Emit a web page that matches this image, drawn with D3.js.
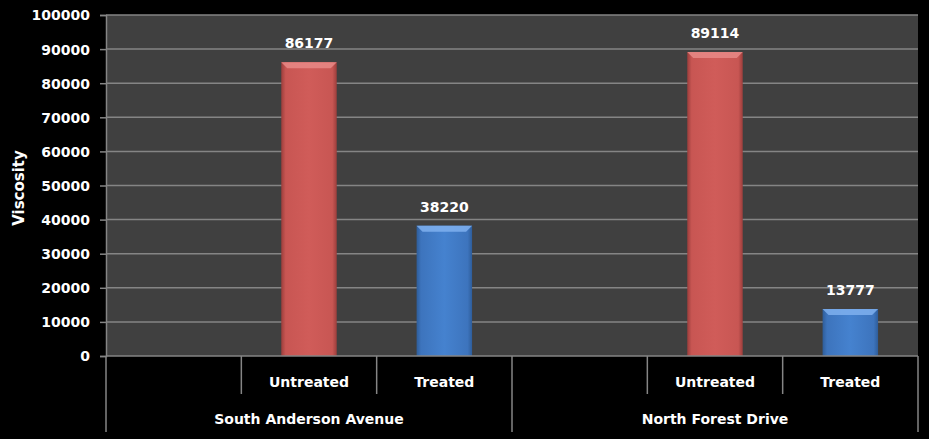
<!DOCTYPE html>
<html>
<head>
<meta charset="utf-8">
<script src="https://cdn.jsdelivr.net/npm/d3@7"></script>
<style>
  body { margin: 0; background: #000; }
  svg text { font-family: "DejaVu Sans", Verdana, sans-serif; font-weight: bold; fill: #fff; }
</style>
</head>
<body>
<div id="chart"></div>
<script>
let groups = ['South Anderson Avenue', 'North Forest Drive'];
let subLabels = ['', 'Untreated', 'Treated'];
let values = [
  [null, 86177, 38220],
  [null, 89114, 13777]
];
let yTicks = [0, 10000, 20000, 30000, 40000, 50000, 60000, 70000, 80000, 90000, 100000];

let width = 929,
    height = 439,
    margin = {top: 15, right: 11, bottom: 83, left: 106};
let plotW = width - margin.left - margin.right,
    plotH = height - margin.top - margin.bottom;

let svg = d3.select('#chart').append('svg')
    .attr('width', width)
    .attr('height', height)
    .style('background', '#000');

let defs = svg.append('defs');
function grad(id, dark, mid, light) {
  let g = defs.append('linearGradient').attr('id', id)
    .attr('x1', '0%').attr('x2', '100%').attr('y1', '0%').attr('y2', '0%');
  g.append('stop').attr('offset', '0%').attr('stop-color', dark);
  g.append('stop').attr('offset', '8%').attr('stop-color', mid);
  g.append('stop').attr('offset', '50%').attr('stop-color', light);
  g.append('stop').attr('offset', '92%').attr('stop-color', mid);
  g.append('stop').attr('offset', '100%').attr('stop-color', dark);
}
grad('gUntreated', '#9c3e3c', '#c85653', '#d05c59');
grad('gTreated', '#2e5d9a', '#3d74bd', '#4582cf');
let topColor = {Untreated: '#e88a87', Treated: '#7fb0ee'};

let g = svg.append('g').attr('transform', `translate(${margin.left},${margin.top})`);

let yScale = d3.scaleLinear().domain([0, 100000]).range([plotH, 0]);
let x0 = d3.scaleBand().domain(groups).range([0, plotW]);
let x1 = d3.scaleBand().domain(d3.range(subLabels.length)).range([0, x0.bandwidth()]);

g.append('rect')
  .attr('width', plotW).attr('height', plotH)
  .attr('fill', '#404040');

// gridlines
g.selectAll('.grid').data(yTicks.slice(1)).enter().append('line')
  .attr('x1', 0).attr('x2', plotW)
  .attr('y1', d => yScale(d)).attr('y2', d => yScale(d))
  .attr('stroke', '#858585').attr('stroke-width', 1.5);

// y axis
let yAxis = g.append('g')
  .call(d3.axisLeft(yScale).tickValues(yTicks).tickSize(6).tickPadding(10).tickFormat(d3.format('d')));
yAxis.select('.domain').attr('stroke', '#858585').attr('stroke-width', 1.5);
yAxis.selectAll('.tick line').attr('stroke', '#858585').attr('stroke-width', 1.5);
yAxis.selectAll('.tick text').style('font-size', '14px').attr('fill', '#fff').attr('dy', '0.35em');

svg.append('text')
  .attr('transform', `translate(24,188) rotate(-90)`)
  .attr('text-anchor', 'middle')
  .style('font-size', '15px')
  .text('Viscosity');

// bars
let barW = x1.bandwidth() * 0.41;
let bars = [];
groups.forEach((grp, gi) => {
  values[gi].forEach((v, si) => {
    if (v != null) bars.push({grp: grp, sub: subLabels[si], si: si, v: v});
  });
});

let bar = g.selectAll('.bar').data(bars).enter().append('g')
  .attr('transform', d => `translate(${x0(d.grp) + x1(d.si) + (x1.bandwidth() - barW) / 2},0)`);

bar.append('rect')
  .attr('y', d => yScale(d.v))
  .attr('width', barW)
  .attr('height', d => plotH - yScale(d.v))
  .attr('fill', d => `url(#g${d.sub})`);

let bev = 6;
bar.append('path')
  .attr('d', d => {
    let y = yScale(d.v);
    return `M0,${y} L${barW},${y} L${barW - bev},${y + bev} L${bev},${y + bev} Z`;
  })
  .attr('fill', d => topColor[d.sub])
  .attr('opacity', 0.85);

bar.append('text')
  .attr('x', barW / 2)
  .attr('y', d => yScale(d.v) - 14)
  .attr('text-anchor', 'middle')
  .style('font-size', '14px')
  .text(d => d.v);

// x axis baseline
g.append('line')
  .attr('x1', 0).attr('x2', plotW)
  .attr('y1', plotH).attr('y2', plotH)
  .attr('stroke', '#858585').attr('stroke-width', 1.5);

// category separators
let seps = [];
groups.forEach((grp, gi) => {
  subLabels.forEach((s, si) => {
    seps.push({x: x0(grp) + x1(si), outer: si === 0});
  });
});
seps.push({x: plotW, outer: true});

g.selectAll('.sep').data(seps).enter().append('line')
  .attr('x1', d => d.x).attr('x2', d => d.x)
  .attr('y1', plotH).attr('y2', d => plotH + (d.outer ? 76 : 38))
  .attr('stroke', '#858585').attr('stroke-width', 1.5);

groups.forEach(grp => {
  subLabels.forEach((s, si) => {
    g.append('text')
      .attr('x', x0(grp) + x1(si) + x1.bandwidth() / 2)
      .attr('y', plotH + 31)
      .attr('text-anchor', 'middle')
      .style('font-size', '14px')
      .text(s);
  });
  g.append('text')
    .attr('x', x0(grp) + x0.bandwidth() / 2)
    .attr('y', plotH + 68)
    .attr('text-anchor', 'middle')
    .style('font-size', '14px')
    .text(grp);
});
</script>
</body>
</html>
